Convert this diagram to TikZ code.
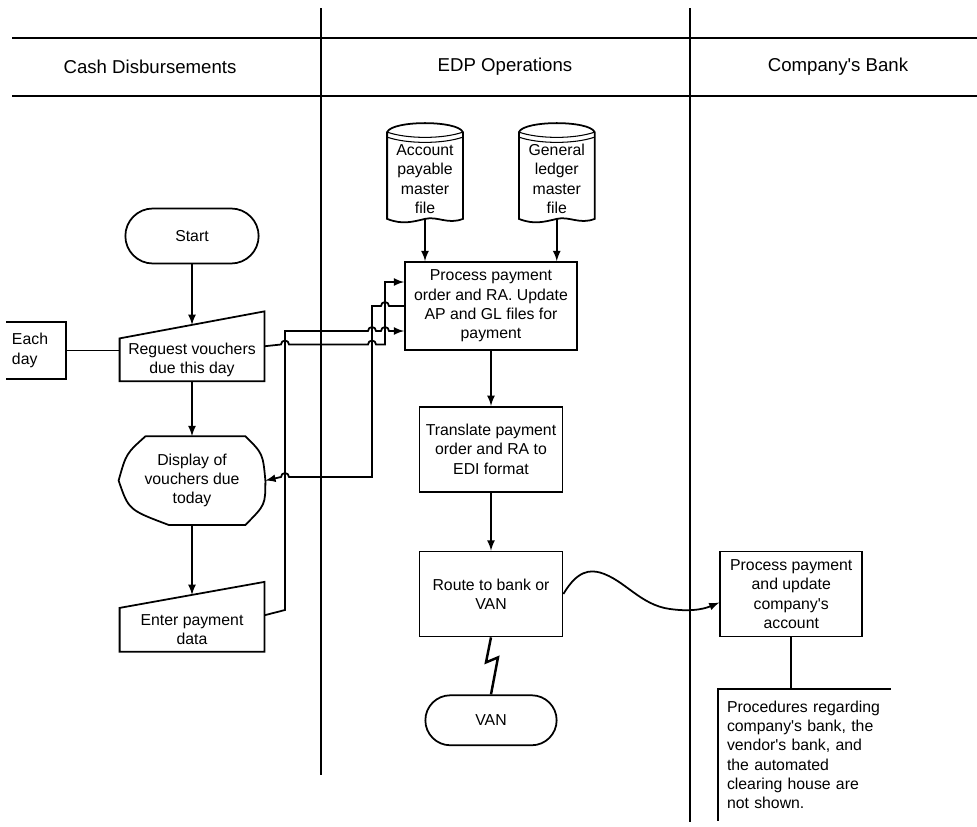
\documentclass[tikz,border=0pt]{standalone}
\usepackage{fontspec}
\setmainfont{Liberation Sans}
\usepackage{tikz}
\usetikzlibrary{arrows,positioning,shapes,calc}

\newcommand{\hopR}{arc[start angle=180,end angle=0,radius=0.08cm]}
\newcommand{\hopL}{arc[start angle=0,end angle=180,radius=0.08cm]}
\newcommand{\q}{\textquotesingle}

\begin{document}
\begin{tikzpicture}[line width=1pt,>=latex,
  font=\fontsize{9}{11}\selectfont,
  procbox/.style={draw,align=center,minimum width=2.86cm,minimum height=1.7cm,inner sep=2pt},
  termbox/.style={draw,shape=rounded rectangle,minimum width=2.86cm,minimum height=1.0cm},
  inbox/.style={align=center,minimum width=2.86cm,inner sep=1pt},
  filebox/.style={align=center,minimum width=1.48cm,minimum height=1.56cm,inner sep=1pt},
  annot/.style={align=left,inner ysep=1pt},
  head/.style={font=\fontsize{10.6}{13}\selectfont}]
\useasboundingbox (0,0) rectangle (19.54,-16.54);

% swimlanes
\draw[line width=0.6pt] (0.24,-0.76) -- (19.54,-0.76) (0.24,-1.92) -- (19.54,-1.92);
\draw (6.42,-0.16) -- (6.42,-15.5);
\draw (13.8,-0.16) -- (13.8,-16.44);
\node[head] (h1) at (3.0,-1.34) {Cash Disbursements};
\node[head] (h2) at (10.1,-1.34) {EDP Operations};
\node[head] (h3) at (16.76,-1.34) {Company\q s Bank};

% cash disbursements
\node[termbox,minimum width=2.9cm,minimum height=1.1cm] (start) at (3.84,-4.72) {Start};
\node[inbox,minimum height=0.82cm,below=1.48cm of start] (req) {Reguest vouchers\\due this day};
\node[align=center,minimum width=2.9cm,minimum height=1.74cm,below=1.1cm of req] (disp) {Display of\\vouchers due\\today};
\node[inbox,minimum height=0.84cm,below=1.66cm of disp] (enter) {Enter payment\\data};
\node[annot,text width=0.96cm,inner xsep=0.1cm,minimum height=1.1cm] (each) at (0.72,-7.01) {Each\\day};

% EDP operations
\node[procbox,minimum width=3.44cm,minimum height=1.76cm] (proc) at (9.82,-6.12) {Process payment\\order and RA. Update\\AP and GL files for\\payment};
\node[procbox,below=1.1cm of proc] (trans) {Translate payment\\order and RA to\\EDI format};
\node[procbox,below=1.16cm of trans] (route) {Route to bank or\\VAN};
\node[termbox,below=1.14cm of route] (van) {VAN};
\node[filebox] (apf) at (8.5,-3.58) {Account\\payable\\master\\file};
\node[filebox,right=1.12cm of apf] (glf) {General\\ledger\\master\\file};

% company's bank
\node[procbox,minimum width=2.84cm,right=3.12cm of route] (bproc) {Process payment\\and update\\company\q s\\account};
\node[annot,text width=3.1cm,inner xsep=0.16cm,minimum height=2.6cm] (note) at (16.09,-15.1) {Procedures regarding\\company\q s bank, the\\vendor\q s bank, and\\the automated\\clearing house are\\not shown.};

% outlines
\foreach \m/\h in {req/0.54,enter/0.52}
  \draw (\m.south west) -- (\m.south east) -- ([yshift=\h cm]\m.north east) -- (\m.north west) -- cycle;
\draw ([xshift=0.54cm]disp.north west) -- ([xshift=-0.4cm]disp.north east)
  .. controls ([xshift=-0.05cm,yshift=-0.35cm]disp.north east) .. (disp.east)
  .. controls ([yshift=0.4cm]disp.south east) .. ([xshift=-0.4cm]disp.south east)
  -- ([xshift=1cm]disp.south west)
  .. controls ([xshift=0.2cm,yshift=0.3cm]disp.south west) .. (disp.west)
  .. controls ([xshift=0.15cm,yshift=-0.35cm]disp.north west) .. ([xshift=0.54cm]disp.north west);
\foreach \c in {apf,glf}{
  \draw ([yshift=0.14cm]\c.north west) .. controls +(0.1,0.24) and +(-0.1,0.24) .. ([yshift=0.14cm]\c.north east)
    -- (\c.south east) .. controls +(-0.3,-0.12) and +(0.25,0.06) .. (\c.south)
    .. controls +(-0.25,-0.06) and +(0.3,-0.12) .. (\c.south west) -- cycle;
  \draw[line width=0.6pt] ([yshift=0.14cm]\c.north west) .. controls +(0.4,-0.14) and +(-0.4,-0.14) .. ([yshift=0.14cm]\c.north east)
    ([yshift=0.04cm]\c.north west) .. controls +(0.4,-0.14) and +(-0.4,-0.14) .. ([yshift=0.04cm]\c.north east);
}
\draw (each.north west) -- (each.north east) -- (each.south east) -- (each.south west);
\draw (note.north east) -- (note.north west) -- (note.south west);

% flow
\draw[->] (start.south) -- ([yshift=0.27cm]req.north);
\draw (each.east) -- (each.east -| req.west);
\draw[->] (req.south) -- (disp.north);
\draw[->] (disp.south) -- ([yshift=0.26cm]enter.north);
\draw[->] (apf.south) -- (apf.south |- proc.north);
\draw[->] (glf.south) -- (glf.south |- proc.north);
\draw[->] (proc) -- (trans);
\draw[->] (trans) -- (route);
\draw[line width=1.4pt] (route.south) -- ++(-0.1,-0.5) -- ++(0.24,0.1) -- (van.north);
\draw[->] (route.east) .. controls (11.55,-11.4) and (11.8,-11.4) .. (12.0,-11.45)
  .. controls (12.5,-11.6) and (12.8,-12.1) .. (13.4,-12.18)
  .. controls (13.9,-12.25) and (14.15,-12.15) .. ([yshift=-0.17cm]bproc.west);
\draw (bproc.south) -- (bproc.south |- note.north);

\draw[->] ([yshift=0.27cm]req.east) -- (5.62,-6.89) \hopR -- (7.36,-6.89) \hopR -- (7.7,-6.89) |- ([yshift=0.48cm]proc.west);
\draw[->] ([yshift=0.29cm]enter.east) -- (5.7,-12.2) -- (5.7,-6.62) -- (7.36,-6.62) \hopR -- (7.62,-6.62) \hopR -- ([yshift=-0.5cm]proc.west);
\draw[->] (proc.west) -- (7.78,-6.12) \hopL -- (7.44,-6.12) -- (7.44,-9.54) -- (5.78,-9.54) \hopL -- (disp.east);
\end{tikzpicture}
\end{document}
